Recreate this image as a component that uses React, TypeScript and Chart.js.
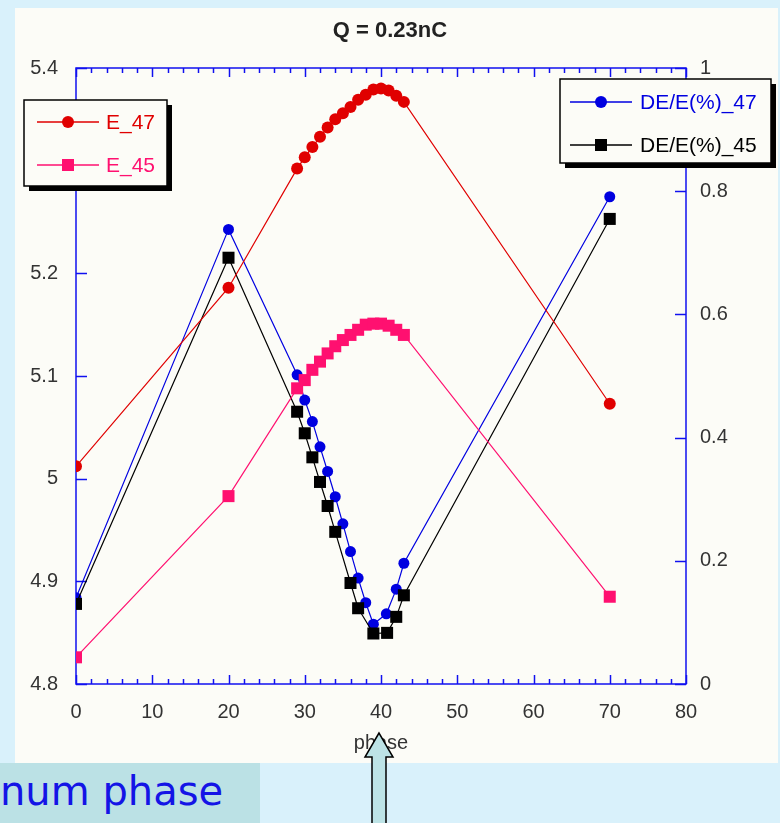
import React, { useEffect, useRef } from "react";
import { Chart, registerables } from "chart.js";

Chart.register(...registerables);

const FONT = '"Liberation Sans", Arial, sans-serif';

const chartTitle = "Q = 0.23nC";
const xTitle = "phase";
const captionText = "num phase";

// E_47 (left axis)
const e47Phase = [0, 20, 29, 30, 31, 32, 33, 34, 35, 36, 37, 38, 39, 40, 41, 42, 43, 70];
const e47Energy = [5.012, 5.186, 5.302, 5.313, 5.323, 5.333, 5.342, 5.35, 5.356, 5.362, 5.369, 5.374, 5.379, 5.38, 5.378, 5.373, 5.367, 5.073];

// E_45 (left axis)
const e45Phase = [0, 20, 29, 30, 31, 32, 33, 34, 35, 36, 37, 38, 39, 40, 41, 42, 43, 70];
const e45Energy = [4.826, 4.983, 5.088, 5.096, 5.106, 5.114, 5.122, 5.129, 5.135, 5.14, 5.145, 5.15, 5.151, 5.151, 5.149, 5.145, 5.14, 4.885];

// DE/E(%)_47 (right axis)
const de47Phase = [0, 20, 29, 30, 31, 32, 33, 34, 35, 36, 37, 38, 39, 40.7, 42, 43, 70];
const de47Spread = [0.14, 0.738, 0.502, 0.461, 0.426, 0.385, 0.345, 0.304, 0.26, 0.215, 0.172, 0.132, 0.097, 0.114, 0.154, 0.196, 0.791];

// DE/E(%)_45 (right axis)
const de45Phase = [0, 20, 29, 30, 31, 32, 33, 34, 36, 37, 39, 40.8, 42, 43, 70];
const de45Spread = [0.13, 0.692, 0.442, 0.407, 0.368, 0.328, 0.289, 0.247, 0.164, 0.123, 0.082, 0.083, 0.109, 0.144, 0.755];

const xTicks = [0, 10, 20, 30, 40, 50, 60, 70, 80];
const xMinorStep = 2;
const leftTicks = [4.8, 4.9, 5, 5.1, 5.2, 5.3, 5.4];
const rightTicks = [0, 0.2, 0.4, 0.6, 0.8, 1];

const PAGE_BG = "#d9f1fb";
const PANEL_BG = "#fcfcf7";
const AXIS_BLUE = "#1010f0";
const RED = "#e00000";
const PINK = "#ff1070";
const BLUE = "#0000e0";
const BLACK = "#000000";
const LABEL = "#333333";

const pts = (xs: number[], ys: number[]) => xs.map((x, i) => ({ x, y: ys[i] }));
const fmt = (v: number) => String(Number(v.toFixed(2)));

function drawMarker(ctx: CanvasRenderingContext2D, style: string, x: number, y: number, color: string) {
  ctx.fillStyle = color;
  if (style === "rect") {
    ctx.fillRect(x - 6, y - 6, 12, 12);
  } else {
    ctx.beginPath();
    ctx.arc(x, y, 6, 0, Math.PI * 2);
    ctx.fill();
  }
}

function drawLegend(
  chart: any,
  box: { x: number; y: number; w: number; h: number },
  idx: number[],
  rows: number[],
  lineX: [number, number],
  textX: number
) {
  const ctx: CanvasRenderingContext2D = chart.ctx;
  ctx.save();
  ctx.fillStyle = "#000";
  ctx.fillRect(box.x + 5, box.y + 5, box.w, box.h);
  ctx.fillStyle = PANEL_BG;
  ctx.fillRect(box.x, box.y, box.w, box.h);
  ctx.strokeStyle = "#000";
  ctx.lineWidth = 1.5;
  ctx.strokeRect(box.x, box.y, box.w, box.h);
  idx.forEach((di, k) => {
    const ds = chart.data.datasets[di];
    const y = rows[k];
    ctx.strokeStyle = ds.borderColor;
    ctx.lineWidth = 1.3;
    ctx.beginPath();
    ctx.moveTo(lineX[0], y);
    ctx.lineTo(lineX[1], y);
    ctx.stroke();
    drawMarker(ctx, ds.pointStyle, (lineX[0] + lineX[1]) / 2, y, ds.borderColor);
    ctx.fillStyle = ds.borderColor;
    ctx.font = `21px ${FONT}`;
    ctx.textAlign = "left";
    ctx.textBaseline = "middle";
    ctx.fillText(ds.label, textX, y + 1);
  });
  ctx.restore();
}

const decorPlugin = {
  id: "decor",
  beforeDraw(chart: any) {
    const ctx: CanvasRenderingContext2D = chart.ctx;
    ctx.save();
    ctx.fillStyle = PAGE_BG;
    ctx.fillRect(0, 0, chart.width, chart.height);
    ctx.fillStyle = PANEL_BG;
    ctx.fillRect(15, 8, 763, 755);
    ctx.fillStyle = "#222";
    ctx.font = `bold 22px ${FONT}`;
    ctx.textAlign = "center";
    ctx.textBaseline = "middle";
    ctx.fillText(chartTitle, 390, 31);
    ctx.restore();
  },
  beforeDatasetsDraw(chart: any) {
    const ctx: CanvasRenderingContext2D = chart.ctx;
    const { left, right, top, bottom } = chart.chartArea;
    const xs = chart.scales.x;
    const yl = chart.scales.yL;
    const yr = chart.scales.yR;
    ctx.save();
    ctx.strokeStyle = AXIS_BLUE;
    ctx.lineWidth = 1.5;
    ctx.strokeRect(left, top, right - left, bottom - top);
    ctx.beginPath();
    for (let v = xs.min; v <= xs.max; v += xMinorStep) {
      const px = Math.round(xs.getPixelForValue(v)) + 0.5;
      const len = v % 10 === 0 ? 9 : 5;
      ctx.moveTo(px, bottom);
      ctx.lineTo(px, bottom - len);
      ctx.moveTo(px, top);
      ctx.lineTo(px, top + len);
    }
    leftTicks.forEach((v) => {
      const py = Math.round(yl.getPixelForValue(v)) + 0.5;
      ctx.moveTo(left, py);
      ctx.lineTo(left + 11, py);
    });
    rightTicks.forEach((v) => {
      const py = Math.round(yr.getPixelForValue(v)) + 0.5;
      ctx.moveTo(right, py);
      ctx.lineTo(right - 11, py);
    });
    ctx.stroke();
    ctx.restore();
  },
  afterDraw(chart: any) {
    drawLegend(chart, { x: 24, y: 100, w: 143, h: 86 }, [0, 1], [122, 165], [37, 99], 106);
    drawLegend(chart, { x: 560, y: 79, w: 211, h: 84 }, [2, 3], [102, 145], [570, 632], 640);
  },
};

export default function App() {
  const ref = useRef<HTMLCanvasElement | null>(null);

  useEffect(() => {
    document.body.style.margin = "0";
    document.body.style.background = PAGE_BG;
    const canvas = ref.current;
    if (!canvas) return;
    const common = { borderWidth: 1.2, pointBorderWidth: 0, showLine: true, fill: false };
    const chart = new Chart(canvas, {
      type: "scatter",
      data: {
        datasets: [
          {
            ...common,
            label: "E_47",
            data: pts(e47Phase, e47Energy),
            borderColor: RED,
            backgroundColor: RED,
            pointBackgroundColor: RED,
            pointStyle: "circle",
            pointRadius: 6,
            yAxisID: "yL",
            order: 2,
          },
          {
            ...common,
            label: "E_45",
            data: pts(e45Phase, e45Energy),
            borderColor: PINK,
            backgroundColor: PINK,
            pointBackgroundColor: PINK,
            pointStyle: "rect",
            pointRadius: 8.5,
            yAxisID: "yL",
            order: 1,
          },
          {
            ...common,
            label: "DE/E(%)_47",
            data: pts(de47Phase, de47Spread),
            borderColor: BLUE,
            backgroundColor: BLUE,
            pointBackgroundColor: BLUE,
            pointStyle: "circle",
            pointRadius: 5.5,
            yAxisID: "yR",
            order: 4,
          },
          {
            ...common,
            label: "DE/E(%)_45",
            data: pts(de45Phase, de45Spread),
            borderColor: BLACK,
            backgroundColor: BLACK,
            pointBackgroundColor: BLACK,
            pointStyle: "rect",
            pointRadius: 8.5,
            yAxisID: "yR",
            order: 3,
          },
        ],
      },
      options: {
        animation: false,
        responsive: false,
        maintainAspectRatio: false,
        layout: { padding: { top: 68, left: 0, right: 0, bottom: 68 } },
        plugins: { legend: { display: false }, tooltip: { enabled: false }, title: { display: false } },
        scales: {
          x: {
            type: "linear",
            position: "bottom",
            min: 0,
            max: 80,
            afterBuildTicks: (s: any) => {
              s.ticks = xTicks.map((v) => ({ value: v }));
            },
            afterFit: (s: any) => {
              s.height = 71;
            },
            grid: { display: false, drawTicks: false },
            border: { display: false },
            ticks: { color: LABEL, font: { family: FONT, size: 20 }, padding: 16, maxRotation: 0, callback: (v: any) => fmt(Number(v)) },
            title: { display: true, text: xTitle, color: LABEL, font: { family: FONT, size: 20 }, padding: { top: 0, bottom: 0 } },
          },
          yL: {
            type: "linear",
            position: "left",
            min: 4.8,
            max: 5.4,
            afterBuildTicks: (s: any) => {
              s.ticks = leftTicks.map((v) => ({ value: v }));
            },
            afterFit: (s: any) => {
              s.width = 76;
            },
            grid: { display: false, drawTicks: false },
            border: { display: false },
            ticks: { color: LABEL, font: { family: FONT, size: 20 }, padding: 18, callback: (v: any) => fmt(Number(v)) },
          },
          yR: {
            type: "linear",
            position: "right",
            min: 0,
            max: 1,
            afterBuildTicks: (s: any) => {
              s.ticks = rightTicks.map((v) => ({ value: v }));
            },
            afterFit: (s: any) => {
              s.width = 94;
            },
            grid: { display: false, drawTicks: false },
            border: { display: false },
            ticks: { color: LABEL, font: { family: FONT, size: 20 }, padding: 14, callback: (v: any) => fmt(Number(v)) },
          },
        },
      },
      plugins: [decorPlugin],
    } as any);
    return () => chart.destroy();
  }, []);

  return (
    <div style={{ position: "relative", width: 780, height: 823, background: PAGE_BG, overflow: "hidden" }}>
      <canvas ref={ref} width={780} height={823} style={{ position: "absolute", left: 0, top: 0, width: 780, height: 823 }} />
      <div
        style={{
          position: "absolute",
          left: 0,
          top: 763,
          width: 260,
          height: 60,
          background: "#bbe1e5",
          color: "#1414e6",
          fontFamily: '"DejaVu Sans", sans-serif',
          fontSize: 40,
          lineHeight: "56px",
          whiteSpace: "nowrap",
          overflow: "hidden",
        }}
      >
        {captionText}
      </div>
      <svg width={780} height={823} style={{ position: "absolute", left: 0, top: 0, pointerEvents: "none" }}>
        <polygon
          points="379,733 365,757 372,757 372,826 386,826 386,757 393,757"
          fill="#bde3e6"
          stroke="#000"
          strokeWidth={1.5}
        />
      </svg>
    </div>
  );
}
